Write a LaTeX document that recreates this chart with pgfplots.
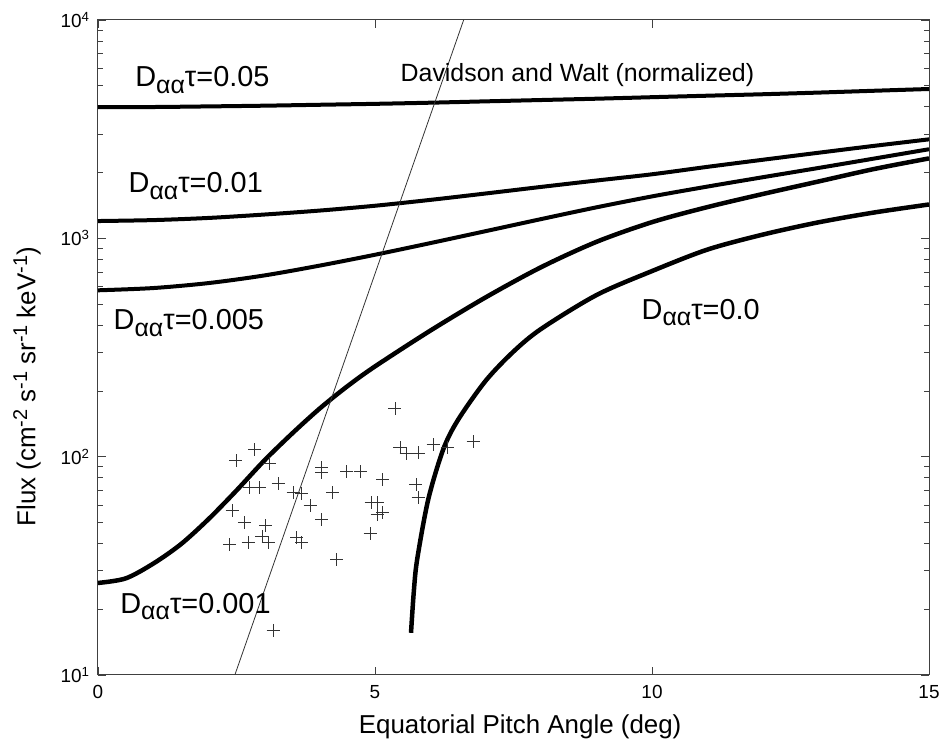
\documentclass[border=0pt]{standalone}
\usepackage{fontspec}
\setmainfont{Liberation Sans}
\usepackage{pgfplots}
\pgfplotsset{compat=1.18}
\newcommand{\Daa}{D\raisebox{-0.45ex}{\fontsize{25}{25}\selectfont αα}τ}
\newcommand{\sps}[1]{\raisebox{0.6ex}{\fontsize{20}{20}\selectfont #1}}
\begin{document}
\begin{tikzpicture}
\useasboundingbox (-98bp,-69bp) rectangle (841bp,675bp);
\begin{axis}[
  scale only axis,
  width=831bp, height=655bp,
  at={(0,0)}, anchor=south west,
  xmin=0, xmax=15,
  ymode=log, ymin=10, ymax=10000,
  xtick={0,5,10,15},
  xticklabels={0,5,10,15},
  ytick={10,100,1000,10000},
  yticklabels={10\textsuperscript{1},10\textsuperscript{2},10\textsuperscript{3},10\textsuperscript{4}},
  xticklabel style={font=\fontsize{19}{21}\selectfont, yshift=-7bp},
  yticklabel style={font=\fontsize{19}{21}\selectfont, xshift=-5bp},
  tick align=inside,
  major tick length=8bp,
  minor tick length=5bp,
  axis line style={black!75, line width=1bp},
  every tick/.style={black!75, line width=0.8bp},
  xlabel={Equatorial Pitch Angle (deg)},
  ylabel={Flux (cm\sps{-2} s\sps{-1} sr\sps{-1} keV\sps{-1})},
  label style={font=\fontsize{26}{28}\selectfont},
  xlabel style={at={(axis description cs:0.508,0)}, anchor=center, yshift=-52bp},
  ylabel style={at={(axis description cs:-0.0854,0.44)}, anchor=center, rotate=0},
  clip=true,
]
% D tau = 0.05
\addplot[black, line width=4bp, smooth, tension=0.5] coordinates {(0,3990)(1,3995)(2,4020)(3,4050)(4,4090)(5,4130)(6,4180)(7,4240)(8,4300)(9,4360)(10,4430)(11,4500)(12,4570)(13,4650)(14,4740)(15,4830)};
% D tau = 0.01
\addplot[black, line width=4bp, smooth, tension=0.5] coordinates {(0,1200)(1,1212)(2,1240)(3,1285)(4,1340)(5,1410)(6,1500)(7,1605)(8,1720)(9,1840)(10,1965)(11,2125)(12,2290)(13,2465)(14,2650)(15,2840)};
% D tau = 0.005
\addplot[black, line width=4bp, smooth, tension=0.5] coordinates {(0,578)(1,592)(2,624)(3,676)(4,750)(5,841)(6,951)(7,1079)(8,1225)(9,1387)(10,1556)(11,1726)(12,1905)(13,2099)(14,2317)(15,2559)};
% D tau = 0.001
\addplot[black, line width=4.5bp, smooth, tension=0.5] coordinates {(0,26.4)(0.5,27.7)(1,32.4)(1.5,39.8)(2,51.9)(2.5,70.0)(3,95.9)(3.5,127.4)(4,166)(4.5,210)(5,259)(6,378)(7,537)(8,738)(9,964)(10,1186)(11,1390)(12,1596)(13,1820)(14,2075)(15,2323)};
% D tau = 0.0
\addplot[black, line width=4.5bp, smooth, tension=0.5] coordinates {(5.65,15.6)(5.70,24)(5.76,33.7)(5.96,63.5)(6.23,107.7)(6.5,147.6)(7,223)(7.5,303)(8,385)(9,550)(10,708)(11,888)(12,1040)(13,1183)(14,1312)(15,1429)};
% Davidson and Walt
\addplot[black!80, line width=0.8bp] coordinates {(2.47,10)(6.6,10000)};
% measurements
\addplot[only marks, mark=+, mark size=6.5bp, black!80, mark options={line width=0.8bp}] coordinates {
(5.36,166)(2.83,107.7)(2.49,95.9)(3.10,92.9)(5.45,110)(5.56,103)(5.78,104)(6.05,113.5)(6.30,110)(6.77,117)
(4.04,89.1)(4.04,84.5)(4.49,85.4)(4.73,85.4)(5.14,78.5)(2.74,72.1)(2.91,72.1)(3.25,75.2)(3.52,68.4)(3.68,67.7)
(4.24,68.4)(5.74,74.5)(3.83,59.7)(2.42,56.6)(4.93,61.5)(5.04,61.5)(5.78,64.9)(5.04,54.2)(5.14,55.4)(2.64,49.9)
(3.03,48.3)(4.04,51.4)(2.96,43.1)(2.38,39.6)(2.71,40.4)(3.07,40.4)(3.59,42.6)(3.68,40.4)(4.91,44.4)(4.31,33.7)(3.16,16.0)};
% labels
\node[anchor=west, font=\fontsize{29}{31}\selectfont] at (axis cs:0.61,5310) {\Daa=0.05};
\node[anchor=west, font=\fontsize{29}{31}\selectfont] at (axis cs:0.49,1730) {\Daa=0.01};
\node[anchor=west, font=\fontsize{29}{31}\selectfont] at (axis cs:0.22,408) {\Daa=0.005};
\node[anchor=west, font=\fontsize{29}{31}\selectfont] at (axis cs:0.34,20.6) {\Daa=0.001};
\node[anchor=west, font=\fontsize{29}{31}\selectfont] at (axis cs:9.75,457) {\Daa=0.0};
\node[anchor=west, font=\fontsize{25}{27}\selectfont] at (axis cs:5.40,5600) {Davidson and Walt (normalized)};
\end{axis}
\end{tikzpicture}
\end{document}
